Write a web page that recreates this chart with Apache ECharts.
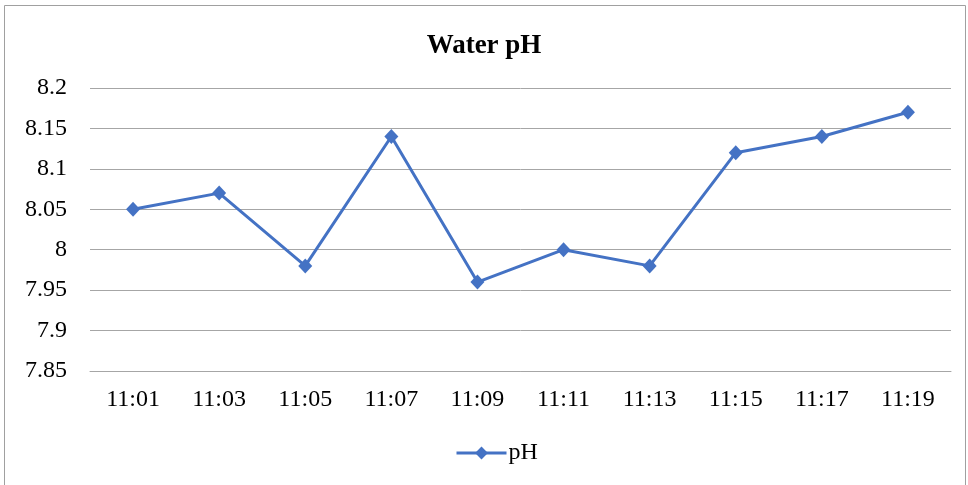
<!DOCTYPE html>
<html><head><meta charset="utf-8">
<script src="https://cdn.jsdelivr.net/npm/echarts@6/dist/echarts.min.js"></script>
<style>html,body{margin:0;padding:0;background:#fff}#c{width:968px;height:485px}</style>
</head><body><div id="c"></div>
<script>
const categories = ['11:01','11:03','11:05','11:07','11:09','11:11','11:13','11:15','11:17','11:19'];
const phValues = [8.05, 8.07, 7.98, 8.14, 7.96, 8.00, 7.98, 8.12, 8.14, 8.17];
const seriesName = 'pH';
const chartTitle = 'Water pH';

const font = '"Liberation Serif","Times New Roman",serif';
const chart = echarts.init(document.getElementById('c'));
chart.setOption({
  animation: false,
  graphic: [{type:'rect', shape:{x:4.5,y:5.5,width:961,height:490}, style:{fill:'none', stroke:'#a0a0a0', lineWidth:1}, silent:true}],
  title: {text: chartTitle, left: 'center', top: 28, textStyle:{fontFamily:font, fontWeight:'bold', fontSize:27, color:'#000'}},
  legend: {data:[{name:seriesName}], top: 441, left: 455, padding: 0, itemWidth: 50, itemHeight: 16, itemGap: 10,
    lineStyle:{width:3}, textStyle:{fontFamily:font, fontSize:24, color:'#000', padding:[0,0,0,-3]}},
  grid: {left: 90, right: 17, top: 88, bottom: 114},
  xAxis: {type:'category', data: categories, boundaryGap:true,
    axisLine:{show:true, lineStyle:{color:'#a6a6a6'}}, axisTick:{show:false},
    axisLabel:{fontFamily:font, fontSize:24, color:'#000', margin:17}},
  yAxis: {type:'value', min:7.85, max:8.2, interval:0.05,
    axisLine:{show:false}, axisTick:{show:false},
    splitLine:{lineStyle:{color:'#a6a6a6', width:1}},
    axisLabel:{fontFamily:font, fontSize:24, color:'#000', margin:23, formatter: v => String(parseFloat(v.toFixed(2)))}},
  series: [{name: seriesName, type:'line', data: phValues, symbol:'diamond', symbolSize:[14,15],
    lineStyle:{color:'#4472C4', width:3}, itemStyle:{color:'#4472C4'}}]
});
</script></body></html>
